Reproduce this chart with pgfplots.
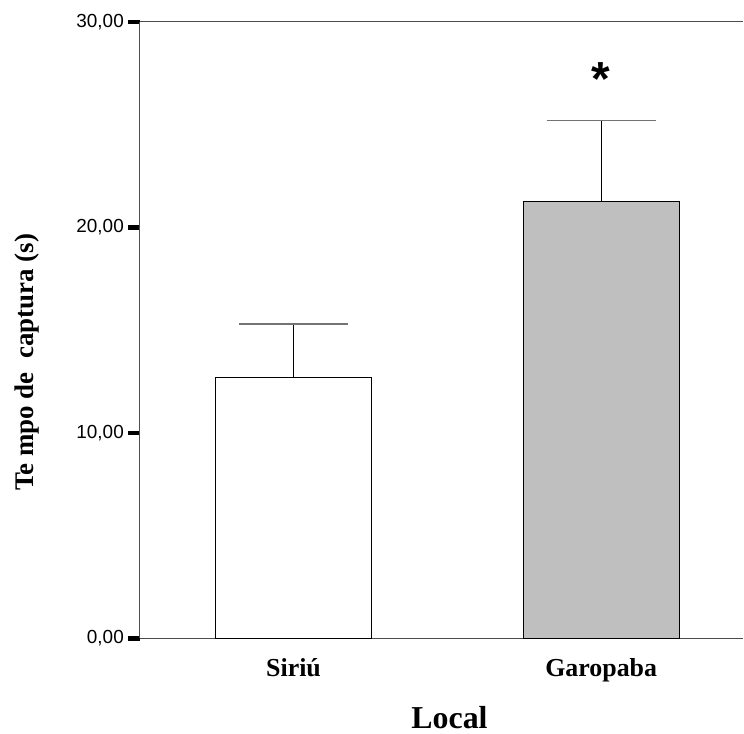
\documentclass[border=0pt]{standalone}
\usepackage{fontspec}
\setmainfont{Liberation Serif}
\newfontfamily\arialfont{Liberation Sans}
\usepackage{pgfplots}
\pgfplotsset{compat=1.18}
\begin{document}
\begin{tikzpicture}
\begin{axis}[
  scale only axis,
  width=603bp, height=616.3bp,
  xmin=-0.499, xmax=1.461,
  ymin=0, ymax=30,
  axis x line*=box,
  axis y line*=left,
  axis line style={draw=black!70, line width=1bp},
  ytick={0,10,20,30},
  yticklabels={{0,00},{10,00},{20,00},{30,00}},
  yticklabel style={font=\arialfont\fontsize{19}{19}\selectfont, inner sep=4bp},
  tick align=outside,
  major tick length=12bp,
  ytick style={draw=black, line width=4.5bp},
  xtick={0,1},
  xticklabels={Siriú,Garopaba},
  xtick style={draw=none},
  xticklabel style={font=\bfseries\fontsize{26}{26}\selectfont, anchor=base, yshift=-26bp},
  xlabel={Local},
  xlabel style={font=\bfseries\fontsize{32}{32}\selectfont, at={(axis description cs:0.5133,-0.1465)}, anchor=base},
  ylabel={Te mpo de\ \ captura (s)},
  ylabel style={font=\bfseries\fontsize{27}{27}\selectfont, at={(axis description cs:-0.1760,0.4478)}, anchor=base, rotate=0},
  ybar, bar width=156bp, bar shift=0pt,
  clip=false,
]
\addplot[fill=white, draw=black, line width=1bp,
  error bars/.cd, y dir=plus, y explicit,
  error bar style={draw=black, line width=1.2bp},
  error mark=-,
  error mark options={rotate=90, mark size=54.5bp, draw=black!55, line width=1.5bp}]
  coordinates {(0,12.69) +- (0,2.62)};
\addplot[fill=black!25, draw=black, line width=1bp,
  error bars/.cd, y dir=plus, y explicit,
  error bar style={draw=black, line width=1.2bp},
  error mark=-,
  error mark options={rotate=90, mark size=54.5bp, draw=black!55, line width=1.5bp}]
  coordinates {(1,21.25) +- (0,3.95)};
\node[font=\arialfont\bfseries\fontsize{48}{48}\selectfont, anchor=center] at (axis cs:1,27.2) {*};
\end{axis}
\path[use as bounding box] (-140bp,-95.7bp) rectangle (604bp,638.3bp);
\end{tikzpicture}
\end{document}
